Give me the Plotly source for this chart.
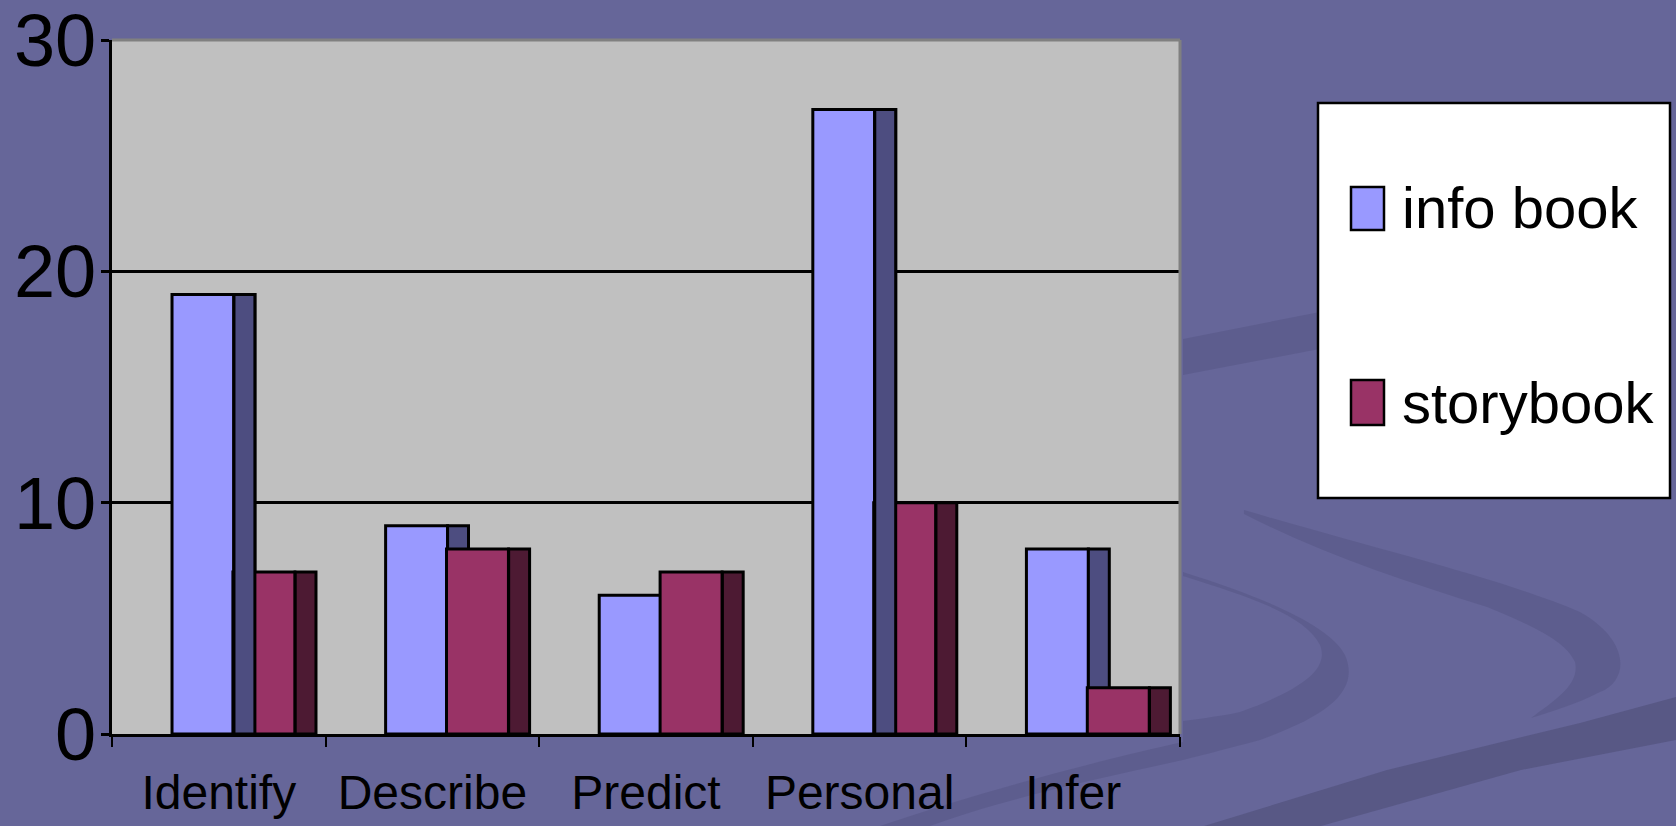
import plotly.graph_objects as go

# ---------------- data ----------------
categories = ["Identify", "Describe", "Predict", "Personal", "Infer"]
info_book = [19, 9, 6, 27, 8]
storybook = [7, 8, 7, 10, 2]
y_ticks = [0, 10, 20, 30]
series_names = ["info book", "storybook"]

# ---------------- style ----------------
W, H = 1676, 826
L, R, T, B = 112, 496, 40, 92
PW, PH = W - L - R, H - T - B


def px(x):
    return (x - L) / PW


def py(y):
    return (H - B - y) / PH


FONT = "Liberation Sans, Arial, sans-serif"
BG = "#666699"
INFO_FRONT = "#9999FF"
INFO_SIDE = "#4D4D80"
STORY_FRONT = "#993366"
STORY_SIDE = "#4D1A33"
# whether the info-book side face is painted over the storybook front face
SIDE_OVER = [True, False, False, True, False]


def bar(y, color, offset, width):
    return go.Bar(
        x=categories, y=y, offset=offset, width=width,
        marker=dict(color=color, line=dict(color="black", width=3)),
        showlegend=False, hoverinfo="skip",
    )


fig = go.Figure()
fig.add_trace(bar(info_book, INFO_FRONT, -0.219, 0.290))
fig.add_trace(bar(info_book, INFO_SIDE, 0.071, 0.098))
fig.add_trace(bar(storybook, STORY_SIDE, 0.357, 0.098))
fig.add_trace(bar(storybook, STORY_FRONT, 0.066, 0.290))
fig.add_trace(bar([v if s else None for v, s in zip(info_book, SIDE_OVER)], INFO_SIDE, 0.071, 0.098))


def path(points):
    parts = []
    for p in points:
        parts.append(p if isinstance(p, str) else f"{px(p[0]):.4f},{py(p[1]):.4f}")
    return "M " + " ".join(parts) + " Z"


shapes = []
swirl = "rgba(60,60,100,0.20)"
band = "rgba(50,50,80,0.27)"
# background swirl bands (decorative)
shapes.append(dict(type="path", xref="paper", yref="paper", layer="below", line=dict(width=0), fillcolor=swirl,
                   path=path([(1183, 339), "L", (1330, 310), "L", (1330, 347), "L", (1183, 375)])))
# left crescent
shapes.append(dict(type="path", xref="paper", yref="paper", layer="below", line=dict(width=0), fillcolor=swirl,
                   path=path([(1183, 572), "C", (1262, 597), (1330, 625), (1345, 655),
                              "C", (1360, 690), (1330, 715), (1260, 740),
                              "C", (1215, 752), (1195, 757), (1183, 760),
                              "L", (1183, 721),
                              "C", (1205, 718), (1222, 716), (1240, 712),
                              "C", (1300, 690), (1330, 670), (1320, 645),
                              "C", (1305, 615), (1250, 597), (1183, 576)])))
# tail of left crescent below the axis
shapes.append(dict(type="path", xref="paper", yref="paper", layer="below", line=dict(width=0), fillcolor=swirl,
                   path=path([(1183, 760), "C", (1100, 778), (1000, 800), (930, 826),
                              "L", (880, 826), "C", (980, 792), (1100, 760), (1183, 742)])))
# right crescent
shapes.append(dict(type="path", xref="paper", yref="paper", layer="below", line=dict(width=0), fillcolor=swirl,
                   path=path([(1244, 510), "C", (1380, 550), (1500, 578), (1580, 612),
                              "C", (1630, 640), (1630, 680), (1600, 692),
                              "C", (1575, 705), (1550, 712), (1531, 718),
                              "C", (1555, 700), (1580, 685), (1575, 662),
                              "C", (1565, 640), (1530, 625), (1487, 607),
                              "C", (1400, 580), (1320, 553), (1244, 514)])))
# lower band
shapes.append(dict(type="path", xref="paper", yref="paper", layer="below", line=dict(width=0), fillcolor=band,
                   path=path([(1676, 697), "L", (1580, 723), "L", (1387, 770), "L", (1204, 826),
                              "L", (1321, 826), "L", (1521, 770), "L", (1676, 740)])))

# gray plot border (top & right)
shapes.append(dict(type="line", xref="paper", yref="paper", x0=0, x1=1, y0=1, y1=1, layer="above",
                   line=dict(color="#808080", width=3)))
shapes.append(dict(type="line", xref="paper", yref="paper", x0=1, x1=1, y0=0, y1=1, layer="above",
                   line=dict(color="#808080", width=3)))

# legend box
shapes.append(dict(type="rect", xref="paper", yref="paper", x0=px(1318), x1=px(1670), y0=py(498), y1=py(103),
                   fillcolor="white", line=dict(color="black", width=2.5), layer="above"))
swatch_y = [(187, 230), (380, 425)]
text_y = [207, 402]
colors = [INFO_FRONT, STORY_FRONT]
annotations = []
for name, c, (y0, y1), ty in zip(series_names, colors, swatch_y, text_y):
    shapes.append(dict(type="rect", xref="paper", yref="paper", x0=px(1351), x1=px(1384), y0=py(y1), y1=py(y0),
                       fillcolor=c, line=dict(color="black", width=2.5), layer="above"))
    annotations.append(dict(text=name, xref="paper", yref="paper", x=px(1400), y=py(ty), xanchor="left",
                            yanchor="middle", showarrow=False, font=dict(family=FONT, size=58, color="black")))

fig.update_layout(
    width=W, height=H,
    margin=dict(l=L, r=R, t=T, b=B, pad=0),
    paper_bgcolor=BG, plot_bgcolor="#C0C0C0",
    barmode="overlay", showlegend=False,
    font=dict(family=FONT, color="black"),
    shapes=shapes, annotations=annotations,
    xaxis=dict(type="category", range=[-0.5, 4.5], tickson="boundaries", ticks="outside", ticklen=10,
               tickwidth=2, tickcolor="black", showline=True, linecolor="black", linewidth=3,
               showgrid=False, tickangle=0, automargin=False, ticklabelstandoff=14,
               tickfont=dict(family=FONT, size=48, color="black"), fixedrange=True),
    yaxis=dict(range=[0, 30], tickvals=y_ticks, ticks="outside", ticklen=8, tickwidth=3, tickcolor="black",
               showline=True, linecolor="black", linewidth=3, showgrid=True, gridcolor="black", gridwidth=2.5,
               zeroline=False, automargin=False, ticklabeloverflow="allow", ticklabelstandoff=-10,
               tickfont=dict(family=FONT, size=74, color="black"), fixedrange=True),
)

fig.write_html("out.html", config={"displayModeBar": False},
               post_script="document.body.style.margin='0';document.body.style.overflow='hidden';")
